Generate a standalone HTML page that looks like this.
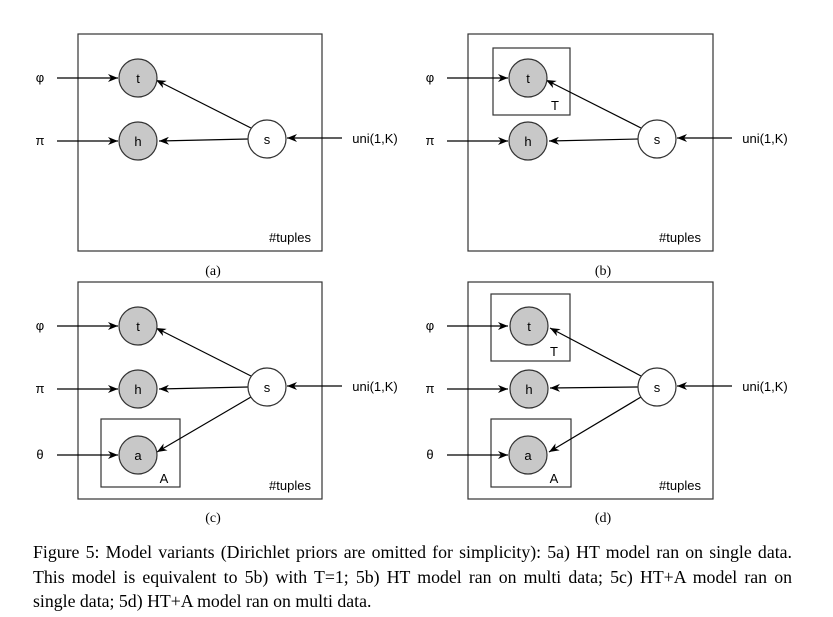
<!DOCTYPE html>
<html><head><meta charset="utf-8"><style>
body{margin:0;background:#fff;width:833px;height:617px;overflow:hidden;position:relative}
.cap{position:absolute;left:33px;top:540px;width:759px;font-family:"Liberation Serif",serif;font-size:17.8px;line-height:24.5px;color:#000}
.cap div{text-align:justify;text-align-last:justify;white-space:nowrap}
.cap div.l{text-align-last:left}
</style></head><body>
<svg width="833" height="540" style="position:absolute;left:0;top:0" font-family="Liberation Sans, sans-serif">
<defs><marker id="ar" markerWidth="10" markerHeight="8" refX="10" refY="4" orient="auto" markerUnits="userSpaceOnUse"><path d="M0,0 L10,4 L0,8 L3,4 Z" fill="#000"/></marker></defs>
<g stroke="#000" stroke-width="1.2" fill="none">
<rect x="78" y="34" width="244" height="217" stroke="#333"/>
<line x1="57" y1="78" x2="118" y2="78" marker-end="url(#ar)"/>
<line x1="57" y1="141" x2="118" y2="141" marker-end="url(#ar)"/>
<line x1="342" y1="138" x2="287" y2="138" marker-end="url(#ar)"/>
<line x1="251" y1="128" x2="156" y2="80" marker-end="url(#ar)"/>
<line x1="248" y1="139" x2="159" y2="141" marker-end="url(#ar)"/>
<circle cx="138" cy="78" r="19" fill="#c8c8c8" stroke="#333"/>
<circle cx="138" cy="141" r="19" fill="#c8c8c8" stroke="#333"/>
<circle cx="267" cy="139" r="19" fill="#fff" stroke="#333"/>
</g>
<g font-size="13" fill="#000" text-anchor="middle">
<text x="138" y="83">t</text><text x="138" y="146">h</text><text x="267" y="144">s</text>
<text x="40" y="82">φ</text><text x="40" y="145">π</text>
<text x="375" y="143">uni(1,K)</text><text x="290" y="242">#tuples</text>
</g>
<text x="213" y="275" font-family="Liberation Serif,serif" font-size="14" text-anchor="middle">(a)</text>

<g stroke="#000" stroke-width="1.2" fill="none">
<rect x="468" y="34" width="245" height="217" stroke="#333"/>
<rect x="493" y="48" width="77" height="67" stroke="#333"/>
<line x1="447" y1="78" x2="508" y2="78" marker-end="url(#ar)"/>
<line x1="447" y1="141" x2="508" y2="141" marker-end="url(#ar)"/>
<line x1="732" y1="138" x2="677" y2="138" marker-end="url(#ar)"/>
<line x1="641" y1="128" x2="546" y2="80" marker-end="url(#ar)"/>
<line x1="638" y1="139" x2="549" y2="141" marker-end="url(#ar)"/>
<circle cx="528" cy="78" r="19" fill="#c8c8c8" stroke="#333"/>
<circle cx="528" cy="141" r="19" fill="#c8c8c8" stroke="#333"/>
<circle cx="657" cy="139" r="19" fill="#fff" stroke="#333"/>
</g>
<g font-size="13" fill="#000" text-anchor="middle">
<text x="528" y="83">t</text><text x="528" y="146">h</text><text x="657" y="144">s</text>
<text x="430" y="82">φ</text><text x="430" y="145">π</text>
<text x="765" y="143">uni(1,K)</text><text x="680" y="242">#tuples</text>
<text x="555" y="110">T</text>
</g>
<text x="603" y="275" font-family="Liberation Serif,serif" font-size="14" text-anchor="middle">(b)</text>

<g stroke="#000" stroke-width="1.2" fill="none">
<rect x="78" y="282" width="244" height="217" stroke="#333"/>
<rect x="101" y="419" width="79" height="68" stroke="#333"/>
<line x1="57" y1="326" x2="118" y2="326" marker-end="url(#ar)"/>
<line x1="57" y1="389" x2="118" y2="389" marker-end="url(#ar)"/>
<line x1="57" y1="455" x2="118" y2="455" marker-end="url(#ar)"/>
<line x1="342" y1="386" x2="287" y2="386" marker-end="url(#ar)"/>
<line x1="251" y1="376" x2="156" y2="328" marker-end="url(#ar)"/>
<line x1="248" y1="387" x2="159" y2="389" marker-end="url(#ar)"/>
<line x1="251" y1="397" x2="157" y2="452" marker-end="url(#ar)"/>
<circle cx="138" cy="326" r="19" fill="#c8c8c8" stroke="#333"/>
<circle cx="138" cy="389" r="19" fill="#c8c8c8" stroke="#333"/>
<circle cx="138" cy="455" r="19" fill="#c8c8c8" stroke="#333"/>
<circle cx="267" cy="387" r="19" fill="#fff" stroke="#333"/>
</g>
<g font-size="13" fill="#000" text-anchor="middle">
<text x="138" y="331">t</text><text x="138" y="394">h</text><text x="138" y="460">a</text><text x="267" y="392">s</text>
<text x="40" y="330">φ</text><text x="40" y="393">π</text><text x="40" y="459">θ</text>
<text x="375" y="391">uni(1,K)</text><text x="290" y="490">#tuples</text>
<text x="164" y="483">A</text>
</g>
<text x="213" y="522" font-family="Liberation Serif,serif" font-size="14" text-anchor="middle">(c)</text>

<g stroke="#000" stroke-width="1.2" fill="none">
<rect x="468" y="282" width="245" height="217" stroke="#333"/>
<rect x="491" y="294" width="79" height="67" stroke="#333"/>
<rect x="491" y="419" width="80" height="68" stroke="#333"/>
<line x1="447" y1="326" x2="508" y2="326" marker-end="url(#ar)"/>
<line x1="447" y1="389" x2="508" y2="389" marker-end="url(#ar)"/>
<line x1="447" y1="455" x2="508" y2="455" marker-end="url(#ar)"/>
<line x1="732" y1="386" x2="677" y2="386" marker-end="url(#ar)"/>
<line x1="641" y1="376" x2="550" y2="328" marker-end="url(#ar)"/>
<line x1="638" y1="387" x2="550" y2="388" marker-end="url(#ar)"/>
<line x1="641" y1="397" x2="549" y2="452" marker-end="url(#ar)"/>
<circle cx="529" cy="326" r="19" fill="#c8c8c8" stroke="#333"/>
<circle cx="529" cy="389" r="19" fill="#c8c8c8" stroke="#333"/>
<circle cx="528" cy="455" r="19" fill="#c8c8c8" stroke="#333"/>
<circle cx="657" cy="387" r="19" fill="#fff" stroke="#333"/>
</g>
<g font-size="13" fill="#000" text-anchor="middle">
<text x="529" y="331">t</text><text x="529" y="394">h</text><text x="528" y="460">a</text><text x="657" y="392">s</text>
<text x="430" y="330">φ</text><text x="430" y="393">π</text><text x="430" y="459">θ</text>
<text x="765" y="391">uni(1,K)</text><text x="680" y="490">#tuples</text>
<text x="554" y="356">T</text><text x="554" y="483">A</text>
</g>
<text x="603" y="522" font-family="Liberation Serif,serif" font-size="14" text-anchor="middle">(d)</text>
</svg>
<div class="cap">
<div>Figure 5: Model variants (Dirichlet priors are omitted for simplicity): 5a) HT model ran on single data.</div>
<div>This model is equivalent to 5b) with T=1; 5b) HT model ran on multi data; 5c) HT+A model ran on</div>
<div class="l">single data; 5d) HT+A model ran on multi data.</div>
</div>
</body></html>
